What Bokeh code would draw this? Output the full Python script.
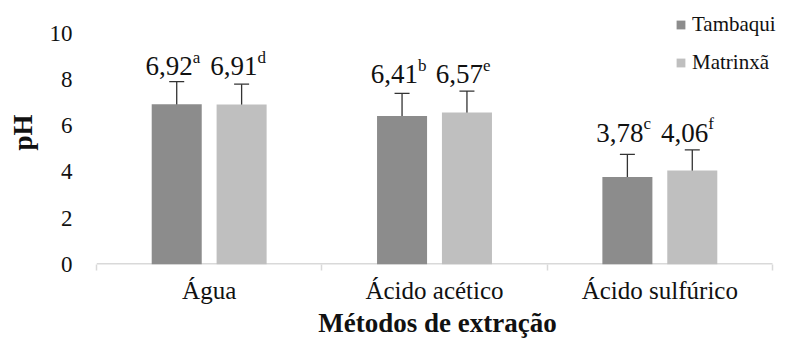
from bokeh.plotting import figure
from bokeh.models import (ColumnDataSource, Range1d, FixedTicker, Whisker, TeeHead,
                          Legend, LegendItem)
from bokeh.core.properties import value
from bokeh.embed import file_html
from bokeh.resources import INLINE

# ---- data ----
categories = ["Água", "Ácido acético", "Ácido sulfúrico"]
series = ["Tambaqui", "Matrinxã"]
tambaqui = [6.92, 6.41, 3.78]
matrinxa = [6.91, 6.57, 4.06]
tambaqui_err = [0.98, 0.98, 0.98]
matrinxa_err = [0.88, 0.92, 0.89]
tambaqui_letters = ["a", "b", "c"]
matrinxa_letters = ["d", "e", "f"]
y_ticks = [0, 2, 4, 6, 8, 10]

FONT = "Liberation Serif"
TXT = "#111111"
colors = ["#8c8c8c", "#bfbfbf"]
bar_w = 0.222
offset = 0.144

W, H = 778, 340
LEFT, BOTTOM = 96, 72
FRAME_W, FRAME_H = W - LEFT, H - BOTTOM
n = len(categories)
x_end = n * FRAME_W / (FRAME_W - 6)       # axis (0..n) spans 676 px, spare px on the right for legend
y_end = FRAME_H / 23.5                    # 23.5 px per pH unit

p = figure(width=W, height=H, output_backend="svg", toolbar_location=None,
           x_range=Range1d(0, x_end), y_range=Range1d(0, y_end),
           min_border_left=LEFT, min_border_right=0, min_border_top=0, min_border_bottom=BOTTOM)
p.outline_line_color = None
p.grid.grid_line_color = None
p.background_fill_color = "white"

# category axis line from 0 to n
p.segment(x0=[0], x1=[n], y0=[0], y1=[0], line_color="#d9d9d9", line_width=3)

def fmt(v):
    return f"{v:.2f}".replace(".", ",")

group_max = [max(t, m) for t, m in zip(tambaqui, matrinxa)]

renderers = []
for k, (vals, errs, letters) in enumerate([(tambaqui, tambaqui_err, tambaqui_letters),
                                            (matrinxa, matrinxa_err, matrinxa_letters)]):
    xs = [i + 0.5 + (-offset if k == 0 else offset) for i in range(n)]
    src = ColumnDataSource(dict(
        x=xs, top=vals,
        upper=[v + e for v, e in zip(vals, errs)],
        lower=[v - e for v, e in zip(vals, errs)],
        label=[fmt(v) for v in vals], letter=letters, ly=group_max))
    r = p.vbar(x="x", top="top", width=bar_w, source=src, fill_color=colors[k], line_color=None)
    renderers.append(r)
    w = Whisker(source=src, base="x", upper="upper", lower="lower",
                line_color="#333333", line_width=1.3,
                upper_head=TeeHead(size=15, line_color="#333333", line_width=1.3),
                lower_head=TeeHead(size=15, line_color="#333333", line_width=1.3))
    p.add_layout(w)
    p.text(x="x", y="ly", text="label", source=src, text_align="right", text_baseline="alphabetic",
           x_offset=16, y_offset=-38, text_font=value(FONT), text_font_size="27px", text_color=TXT)
    p.text(x="x", y="ly", text="letter", source=src, text_align="left", text_baseline="alphabetic",
           x_offset=16, y_offset=-47, text_font=value(FONT), text_font_size="17px", text_color=TXT)

# y axis
p.yaxis.ticker = FixedTicker(ticks=y_ticks)
p.yaxis.axis_line_color = None
p.yaxis.major_tick_line_color = None
p.yaxis.major_tick_out = 0
p.yaxis.major_tick_in = 0
p.yaxis.minor_tick_line_color = None
p.yaxis.major_label_standoff = 24
p.yaxis.major_label_text_font = FONT
p.yaxis.major_label_text_font_size = "23px"
p.yaxis.major_label_text_color = TXT
p.yaxis.axis_label = "pH"
p.yaxis.axis_label_text_font = FONT
p.yaxis.axis_label_text_font_style = "bold"
p.yaxis.axis_label_text_font_size = "27px"
p.yaxis.axis_label_text_color = TXT
p.yaxis.axis_label_standoff = 9

# x axis
centers = [i + 0.5 for i in range(n)]
p.xaxis.ticker = FixedTicker(ticks=centers, minor_ticks=list(range(n + 1)))
p.xaxis.major_label_overrides = {c: lab for c, lab in zip(centers, categories)}
p.xaxis.axis_line_color = None
p.xaxis.major_tick_line_color = None
p.xaxis.major_tick_out = 0
p.xaxis.major_tick_in = 0
p.xaxis.minor_tick_line_color = "#d9d9d9"
p.xaxis.minor_tick_line_width = 1.5
p.xaxis.minor_tick_out = 6
p.xaxis.minor_tick_in = 0
p.xaxis.major_label_standoff = 6
p.xaxis.major_label_text_font = FONT
p.xaxis.major_label_text_font_size = "25px"
p.xaxis.major_label_text_color = TXT
p.xaxis.axis_label = "Métodos de extração"
p.xaxis.axis_label_text_font = FONT
p.xaxis.axis_label_text_font_style = "bold"
p.xaxis.axis_label_text_font_size = "27px"
p.xaxis.axis_label_text_color = TXT
p.xaxis.axis_label_standoff = 1

legend = Legend(items=[LegendItem(label=s, renderers=[r]) for s, r in zip(series, renderers)],
                location=(579, 189), orientation="vertical",
                glyph_width=11, glyph_height=11, label_standoff=6, label_width=88,
                label_text_font=FONT, label_text_font_size="21px", label_text_color=TXT,
                label_height=21, spacing=13, padding=0, margin=0,
                border_line_color=None, background_fill_alpha=0)
p.add_layout(legend, "center")

open("out.html", "w").write(file_html(p, INLINE))
